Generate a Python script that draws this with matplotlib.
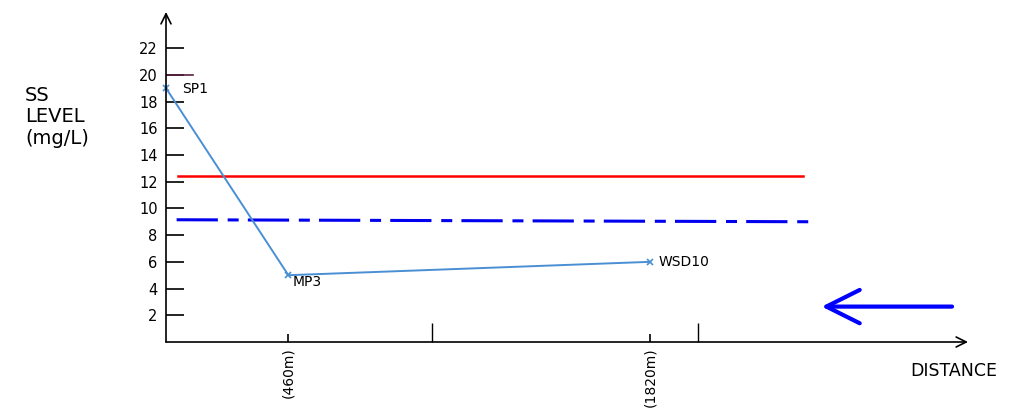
import matplotlib
matplotlib.use("Agg")
import matplotlib.pyplot as plt

plt.rcParams["font.family"] = ["DejaVu Sans"]

# monitoring stations along the channel
stations = ["SP1", "MP3", "WSD10"]
distance_m = [0, 460, 1820]
ss_level = [19.0, 5.0, 6.0]

x_tick_pos = [460, 1820]
x_tick_labels = ["(460m)", "(1820m)"]
x_minor_pos = [1000, 2000]
y_ticks = [2, 4, 6, 8, 10, 12, 14, 16, 18, 20, 22]

red_limit = 12.4          # solid red reference line
red_span = [45, 2395]
blue_limit = [9.15, 9.0]  # dash-dot blue reference line (slight drift)
blue_span = [40, 2430]
sp1_mark = 20.0
sp1_mark_span = [0, 100]

X_MAX, Y_MAX = 3015, 24.7

fig = plt.figure(figsize=(10.24, 4.11), dpi=100)
ax = fig.add_axes([166 / 1024, 69 / 411, 802 / 1024, 330 / 411])
ax.set_xlim(0, X_MAX)
ax.set_ylim(0, Y_MAX)
for s in ax.spines.values():
    s.set_visible(False)

# axes with open arrowheads
arrow = dict(arrowstyle="->", color="black", lw=1.2, mutation_scale=18,
             shrinkA=0, shrinkB=0)
ax.annotate("", xy=(0, Y_MAX), xytext=(0, 0), arrowprops=arrow, annotation_clip=False)
ax.annotate("", xy=(X_MAX, 0), xytext=(0, 0), arrowprops=arrow, annotation_clip=False)

ax.set_yticks(y_ticks)
ax.tick_params(axis="y", direction="in", length=13, width=1.2, pad=6, labelsize=10.5)
ax.set_xticks(x_tick_pos)
ax.set_xticklabels(x_tick_labels, rotation=90, fontsize=10)
ax.set_xticks(x_minor_pos, minor=True)
ax.tick_params(axis="x", which="major", direction="in", length=6, width=1.2, pad=4)
ax.tick_params(axis="x", which="minor", direction="in", length=14, width=1)

# reference lines
ax.plot(red_span, [red_limit, red_limit], color="#ff0000", lw=1.8)
ax.plot(blue_span, blue_limit, color="#0000ee", lw=2.2,
        dashes=(13.5, 3.2, 3.6, 3.0))
ax.plot(sp1_mark_span, [sp1_mark, sp1_mark], color="#5a2040", lw=1.2)

# measured SS
ax.plot(distance_m, ss_level, color="#4a8fd4", lw=1.4, marker="x", ms=4,
        mew=1.2, clip_on=False)
offsets = [(62, -0.1), (15, -0.5), (30, 0)]
for name, x, y, (dx, dy) in zip(stations, distance_m, ss_level, offsets):
    ax.text(x + dx, y + dy, name, fontsize=10, va="center", ha="left")

# flow direction arrow
ax.annotate("", xy=(2465, 2.65), xytext=(2955, 2.65),
            arrowprops=dict(arrowstyle="->, head_length=0.4, head_width=0.2",
                            color="#0000ff", lw=3, mutation_scale=60,
                            shrinkA=0, shrinkB=0))

fig.text(25 / 1024, 1 - 86 / 411, "SS\nLEVEL\n(mg/L)", fontsize=14,
         va="top", ha="left", linespacing=1.15)
fig.text(997 / 1024, 1 - 371 / 411, "DISTANCE", fontsize=12.5,
         va="center", ha="right")

fig.savefig("out.png", dpi=100)
